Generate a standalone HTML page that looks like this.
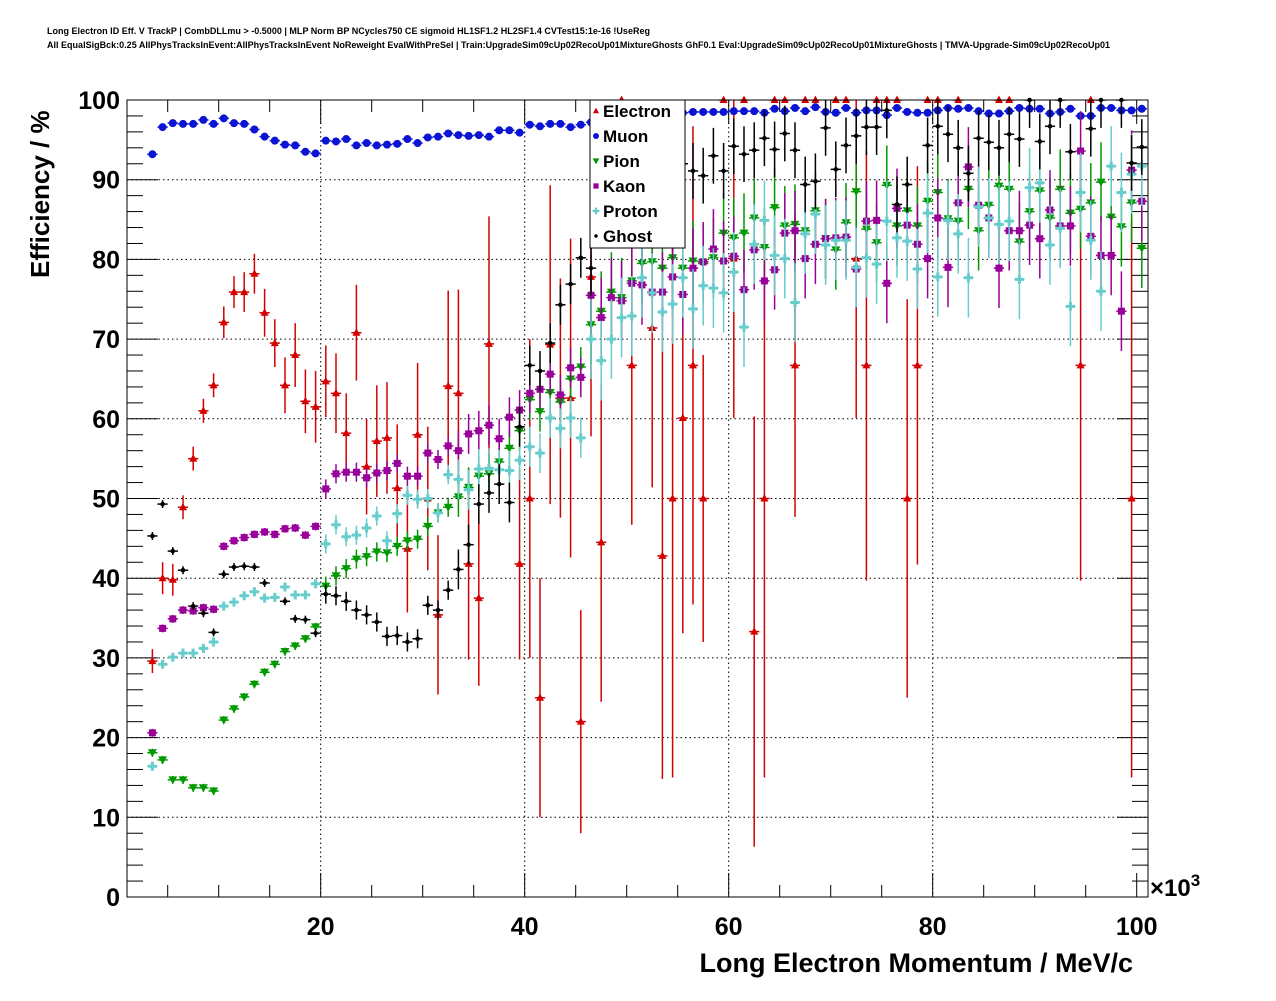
<!DOCTYPE html>
<html><head><meta charset="utf-8"><style>
html,body{margin:0;padding:0;background:#fff;}
svg text{font-family:"Liberation Sans",Arial,sans-serif;}
</style></head><body>
<svg id="chart" width="1276" height="996" viewBox="0 0 1276 996" xmlns="http://www.w3.org/2000/svg">
<rect x="0" y="0" width="1276" height="996" fill="#fff"/>
<text x="47" y="34" font-size="9" font-weight="bold" textLength="603">Long Electron ID Eff. V TrackP | CombDLLmu &gt; -0.5000 | MLP Norm BP NCycles750 CE sigmoid HL1SF1.2 HL2SF1.4 CVTest15:1e-16 !UseReg</text>
<text x="47" y="48" font-size="9" font-weight="bold" textLength="1063">All EqualSigBck:0.25 AllPhysTracksInEvent:AllPhysTracksInEvent NoReweight EvalWithPreSel | Train:UpgradeSim09cUp02RecoUp01MixtureGhosts GhF0.1 Eval:UpgradeSim09cUp02RecoUp01MixtureGhosts | TMVA-Upgrade-Sim09cUp02RecoUp01</text>
<defs><clipPath id="frameclip"><rect x="127" y="100" width="1021" height="797"/></clipPath></defs>
<g id="grid"></g>
<g id="axes"></g>
<g id="series"></g>
<rect x="127" y="100" width="1021" height="797" fill="none" stroke="#000" stroke-width="1"/>
<text x="1133" y="972" font-size="27" font-weight="bold" text-anchor="end">Long Electron Momentum / MeV/c</text>
<text transform="translate(49,278) rotate(-90)" font-size="26" font-weight="bold" text-anchor="start">Efficiency / %</text>
<text x="1150" y="896" font-size="24" font-weight="bold">×10<tspan font-size="17" dy="-10">3</tspan></text>
<g id="legend">
<rect x="590" y="100" width="95" height="148" fill="#fff" stroke="#000" stroke-width="1"/>
</g>
</svg>
<script>
const xTickLabels = ["20","40","60","80","100"];
const yTickLabels = ["0","10","20","30","40","50","60","70","80","90","100"];
const seriesNames = ["Electron","Muon","Pion","Kaon","Proton","Ghost"];
const N = 98;
const momentumCenters = []; for (let i=0;i<N;i++) momentumCenters.push(3.5+i);
const _ = null;
const electron = [29.6,40,39.8,48.9,55,61,64.2,72.1,75.9,75.9,78.2,73.3,69.5,64.2,68,62.2,61.5,64.7,63.2,58.2,70.8,54,57.2,57.6,51.3,43.7,58,50,35.4,64.1,63.2,41.8,37.5,69.4,_,_,41.8,50,25,69.3,62.6,62.6,22,77.8,44.5,_,100,66.7,_,71.4,42.8,50,60.1,66.7,50,_,100,80.1,100,33.3,50,100,100,66.7,100,100,_,100,100,80.1,66.7,100,100,100,50,66.7,100,100,_,100,_,_,_,100,100,_,_,_,_,_,_,66.7,100,_,_,_,50,_];
const electronErr = [1.5,2,2,1.5,1.5,1.5,1.5,2,2,2.5,2.5,3,3,3.5,4,4,4.5,4.5,5,5,6,6,7,7,8,8,9,9,10,12,13,12,11,16,0,0,12,20,15,20,15,20,14,20,20,0,0,20,0,20,28,35,27,30,18,0,0,20,0,27,35,0,0,19,0,0,0,0,0,20,27,0,0,0,25,25,0,0,0,0,0,0,0,0,0,0,0,0,0,0,0,27,0,0,0,0,35,0];
const muon = [93.2,96.6,97.1,97.0,97.0,97.5,97.0,97.7,97.1,97.0,96.3,95.4,94.9,94.4,94.3,93.5,93.3,94.9,94.8,95.1,94.3,94.6,94.3,94.4,94.5,95.1,94.6,95.3,95.4,95.8,95.6,95.5,95.6,95.4,96.2,96.2,95.9,96.9,96.7,97.0,97.0,96.6,96.9,97.2,97.5,97.6,97.8,97.9,98.0,98.1,98.2,98.3,98.4,98.5,98.5,98.5,98.5,98.6,98.6,98.6,98.4,98.9,98.6,99.0,98.6,99.1,98.5,98.4,99.0,98.4,98.7,98.7,98.1,99.0,98.5,98.4,98.4,98.7,99.0,98.9,99.0,98.6,98.3,98.3,98.6,99.0,98.9,98.9,98.3,98.5,98.9,98.0,98.0,99.0,99.0,98.7,98.7,98.9];
const pion = [18.1,17.2,14.7,14.7,13.7,13.7,13.3,22.2,23.6,25.1,26.7,28.2,29.2,30.8,31.5,32.4,33.9,39.0,40.3,41.2,42.4,42.7,43.3,43.2,44.0,44.7,44.9,46.5,48.2,48.9,50.2,51.4,52.8,53.1,54.6,56.3,58.5,62.4,60.9,63.3,62.1,65.0,66.5,71.8,73.5,75.9,75.2,77.3,79.5,79.7,78.9,80.2,78.9,79.8,79.5,80.2,83.3,82.7,83.3,85.2,81.5,86.5,84.2,84.4,83.6,86.1,82.6,81.2,84.6,88.5,83.8,82.1,89.3,84.2,86.1,84.2,87.3,88.4,85.1,84.8,88.8,83.6,86.8,89.2,88.8,82.2,86.0,88.6,85.2,88.8,85.8,86.3,87.1,89.7,85.3,84.1,87.1,81.4];
const kaon = [20.6,33.7,34.9,36,35.9,36.3,36.1,44.0,44.7,45.1,45.5,45.8,45.5,46.2,46.3,45.4,46.5,51.2,53.1,53.3,53.3,52.6,53.2,53.5,54.4,52.8,52.8,55.7,54.9,56.6,56.0,58.1,58.5,59.2,57.5,60.2,61.1,63.2,63.7,65.6,63.0,66.4,65.2,75.5,72.7,75.2,74.8,77.0,76.8,75.9,75.9,77.8,75.6,78.9,79.7,81.3,79.8,80.4,76.2,81.2,77.3,78.7,83.3,83.6,80.1,81.9,82.6,82.7,82.8,78.8,84.8,84.9,77.0,86.4,84.3,81.9,80.1,85.2,79.0,87.1,91.6,86.8,85.2,78.9,83.6,83.6,84.3,82.6,86.2,84.2,84.2,93.6,82.9,80.5,80.5,73.5,91.2,87.3];
const proton = [16.4,29.2,30.1,30.6,30.6,31.2,32.0,36.5,37.0,37.8,38.3,37.5,37.6,38.9,37.9,37.9,39.3,44.3,46.7,45.2,45.4,46.3,47.8,44.7,48.1,50.4,49.9,50.0,48.2,53.0,52.4,51.1,53.7,53.8,53.6,53.5,54.8,56.5,55.7,60.1,58.8,60.1,57.6,70.0,67.3,70.0,72.7,72.9,77.7,75.8,73.4,74.4,77.7,73.8,76.7,76.4,75.8,78.4,71.5,81.9,84.9,80.5,80.1,74.6,83.2,85.7,81.8,82.4,82.4,79.0,80.2,79.4,84.8,82.7,82.3,78.8,85.8,77.8,84.9,83.2,77.7,86.6,85.2,84.4,84.8,77.5,89.0,89.6,81.8,83.9,74.1,88.4,82.4,76.0,91.7,88.4,90.7,91.7];
const ghost = [45.3,49.3,43.4,41.0,36.5,35.6,33.2,40.5,41.4,41.5,41.4,39.4,_,37.1,34.9,34.8,33.1,38.0,37.8,37.1,36.0,35.4,34.5,32.7,32.8,32.0,32.4,36.6,36.0,38.5,41.1,44.2,49.3,50.7,51.8,49.5,59.0,66.7,66.0,69.5,74.3,76.9,80.2,78.9,88,89,90,91,90,92,91,93,92,91.1,90.5,93.0,91.1,94.2,93.2,93.7,95.2,93.8,95.8,93.7,89.4,89.8,96.5,91.3,94.3,95.5,96.6,96.6,98.7,86.9,89.4,_,94.3,96.7,95.7,94.0,90.8,95.2,94.7,94.0,95.7,95.1,100,94.8,96.7,100,93.5,_,96.4,100,_,100,92.1,94.1];

const svgNS="http://www.w3.org/2000/svg";
const X0=127,X1=1148,Y0=100,Y1=897;
function xScale(k){return 116.7+10.2*k;}
function yScale(v){return 897-7.97*v;}
function mk(tag,attrs,parent){const e=document.createElementNS(svgNS,tag);for(const k in attrs)e.setAttribute(k,attrs[k]);parent.appendChild(e);return e;}
const grid=document.getElementById('grid'),axes=document.getElementById('axes'),series=document.getElementById('series'),legend=document.getElementById('legend');

yTickLabels.forEach((lab,j)=>{
  const v=+lab, y=yScale(v);
  if(v>0&&v<100){const g=mk('line',{x1:X0,x2:X1,y1:y,y2:y,stroke:'#000','stroke-width':1,'stroke-dasharray':'1.5,3'},grid);
  
  }
  const t=mk('text',{x:120,y:y+9,'font-size':25,'font-weight':'bold','text-anchor':'end'},axes);
  t.textContent=lab;
  
  
});
for(let v=0;v<=100;v+=2){const y=yScale(v),L=(v%10===0)?31:16;
  mk('line',{x1:X0,x2:X0+L,y1:y,y2:y,stroke:'#000','stroke-width':1},axes);
  mk('line',{x1:X1-L,x2:X1,y1:y,y2:y,stroke:'#000','stroke-width':1},axes);}
xTickLabels.forEach(lab=>{
  const v=+lab,x=xScale(v);
  if(v<100){const g=mk('line',{x1:x,x2:x,y1:Y0,y2:Y1,stroke:'#000','stroke-width':1,'stroke-dasharray':'1.5,3'},grid);
  
  }
  const t=mk('text',{x:x,y:935,'font-size':25,'font-weight':'bold','text-anchor':'middle'},axes);
  t.textContent=lab;
  
  
});
for(let v=5;v<=100;v+=5){const x=xScale(v),L=(v%20===0)?24:12;
  mk('line',{x1:x,x2:x,y1:Y1,y2:Y1-L,stroke:'#000','stroke-width':1},axes);
  mk('line',{x1:x,x2:x,y1:Y0,y2:Y0+L,stroke:'#000','stroke-width':1},axes);}

const colors={Electron:'#d40000',Muon:'#0a14d2',Pion:'#009900',Kaon:'#990099',Proton:'#66cccc',Ghost:'#000000'};
function marker(name,cx,cy,parent,s){
  const c=colors[name];s=s||1;let e;
  if(name==='Electron') e=mk('polygon',{points:`${cx},${cy-4.5*s} ${cx-4*s},${cy+3*s} ${cx+4*s},${cy+3*s}`,fill:c},parent);
  else if(name==='Muon') e=mk('circle',{cx:cx,cy:cy,r:4*s,fill:c},parent);
  else if(name==='Pion') e=mk('polygon',{points:`${cx},${cy+4.5*s} ${cx-4.5*s},${cy-3.5*s} ${cx+4.5*s},${cy-3.5*s}`,fill:c},parent);
  else if(name==='Kaon') e=mk('rect',{x:cx-3.5*s,y:cy-3.5*s,width:7*s,height:7*s,fill:c},parent);
  else if(name==='Proton') e=mk('path',{d:`M${cx-4.5*s},${cy}H${cx+4.5*s}M${cx},${cy-4.5*s}V${cy+4.5*s}`,stroke:c,'stroke-width':3*s,fill:'none'},parent);
  else e=mk('circle',{cx:cx,cy:cy,r:2.3*s,fill:c},parent);
  return e;
}
function errFor(name,i){
  if(name==='Muon') return 0.2;
  if(i<17) return 0.5; if(i<30) return 1.2; if(i<43) return 2.5;
  if(name==='Ghost') return 3.5; return 5;
}
const dataMap={Electron:electron,Muon:muon,Pion:pion,Kaon:kaon,Proton:proton,Ghost:ghost};
seriesNames.forEach(name=>{
  const arr=dataMap[name];
  const g=mk('g',{},series);
  
  
  const eg=mk('g',{'clip-path':'url(#frameclip)',stroke:colors[name],'stroke-width':1.5},g);
  arr.forEach((v,i)=>{
    if(v===null||v===undefined) return;
    const k=momentumCenters[i],cx=xScale(k),cy=yScale(v);
    const er=(name==='Electron')?electronErr[i]:errFor(name,i);
    mk('line',{x1:xScale(k-0.5),x2:xScale(k+0.5),y1:cy,y2:cy},eg);
    if(er>0) mk('line',{x1:cx,x2:cx,y1:yScale(Math.min(v+er,100)),y2:yScale(Math.max(v-er,0))},eg);
    const m=marker(name,cx,cy,g);
    
    
  });
});
seriesNames.forEach((name,j)=>{
  const y=111+25*j;
  const m=marker(name,596,y,legend,0.75);
  
  
  const t=mk('text',{x:603,y:y+6,'font-size':17,'font-weight':'bold'},legend);
  t.textContent=name;
  
  
});
</script>
</body></html>
